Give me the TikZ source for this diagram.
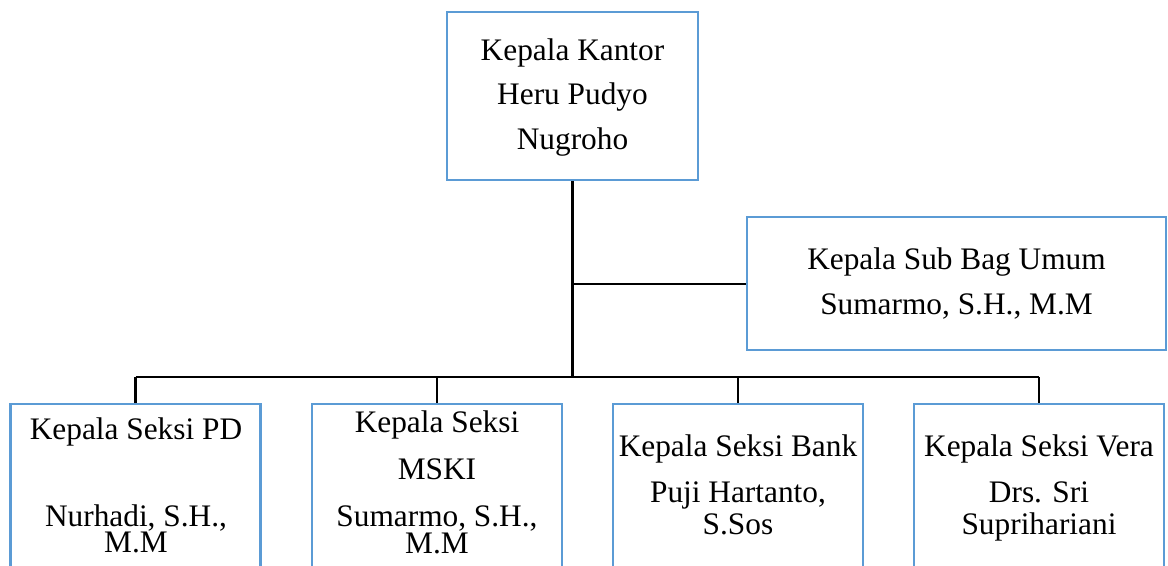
\documentclass[tikz,border=0pt]{standalone}
\usepackage{fontspec}
\setmainfont{Liberation Serif}
\definecolor{boxblue}{HTML}{5B9BD5}
\begin{document}
\begin{tikzpicture}[x=0.75pt,y=-0.75pt,
  orgbox/.style={draw=boxblue,line width=2pt,rectangle,inner sep=0pt},
  txt/.style={anchor=base,inner sep=0pt,font=\fontsize{23.5}{28}\selectfont},
  link/.style={draw=black,line width=2pt},
  trunk/.style={draw=black,line width=2.6pt}]
\useasboundingbox (0,0) rectangle (1168,566);
\clip (0,0) rectangle (1168,566);
% boxes
\node[orgbox,minimum width=188.25pt,minimum height=126pt] (top) at (572.5,96) {};
\node[orgbox,minimum width=314.25pt,minimum height=99.75pt] (sub) at (956.5,283.5) {};
\node[orgbox,minimum width=187.5pt,minimum height=177pt] (b1) at (135.5,522) {};
\node[orgbox,minimum width=187.5pt,minimum height=177pt] (b2) at (437,522) {};
\node[orgbox,minimum width=187.5pt,minimum height=177pt] (b3) at (738,522) {};
\node[orgbox,minimum width=187.5pt,minimum height=177pt] (b4) at (1039,522) {};
% texts
\node[txt] (t1) at (572.5,61) {Kepala Kantor};
\node[txt] (t2) at (572.5,105) {Heru Pudyo};
\node[txt] (t3) at (572.5,150) {Nugroho};
\node[txt] (s1) at (956.5,270) {Kepala Sub Bag Umum};
\node[txt] (s2) at (956.5,315) {Sumarmo, S.H., M.M};
\node[txt] (a1) at (136,440) {Kepala Seksi PD};
\node[txt] (a2) at (136,527) {Nurhadi, S.H.,};
\node[txt] (a3) at (136,552) {M.M};
\node[txt] (c1) at (437,433) {Kepala Seksi};
\node[txt] (c2) at (437,480) {MSKI};
\node[txt] (c3) at (437,527) {Sumarmo, S.H.,};
\node[txt] (c4) at (437,553) {M.M};
\node[txt] (d1) at (738,457) {Kepala Seksi Bank};
\node[txt] (d2) at (738,503) {Puji Hartanto,};
\node[txt] (d3) at (738,535) {S.Sos};
\node[txt] (e1) at (1039,457) {Kepala Seksi Vera};
\node[txt] (e2) at (1039,503) {Drs. Sri};
\node[txt] (e3) at (1039,535) {Suprihariani};
% connectors
\coordinate (bus) at (572.5,377);
\coordinate (jn) at (572.5,284);
\draw[trunk] (top.south) -- (bus);
\draw[link] (jn) -- (jn -| sub.west);
\draw[link] (b1.north |- bus) -- (b4.north |- bus);
\draw[link] (b1.north |- bus) -- (b1.north);
\draw[link] (b2.north |- bus) -- (b2.north);
\draw[link] (b3.north |- bus) -- (b3.north);
\draw[link] (b4.north |- bus) -- (b4.north);
\end{tikzpicture}
\end{document}
